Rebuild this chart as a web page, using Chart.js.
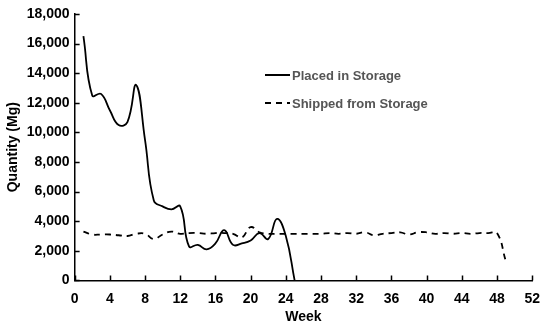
<!DOCTYPE html>
<html>
<head>
<meta charset="utf-8">
<script src="https://cdn.jsdelivr.net/npm/chart.js@4"></script>
<style>
  html, body { margin: 0; padding: 0; background: #fff; }
  #wrap { width: 550px; height: 326px; }
</style>
</head>
<body>
<div id="wrap"><canvas id="lineChart"></canvas></div>
<script>
// weeks and quantities (Mg)
var placedWeeks = [1, 2, 3, 4, 5, 6, 7, 8, 9, 10, 11, 12, 13, 14, 15, 16, 17, 18, 19, 20, 21, 22, 23, 24, 25];
var placedValues = [16500, 12500, 12600, 11500, 10500, 10700, 13200, 9500, 5400, 5000, 4800, 5000, 2300, 2400, 2100, 2500, 3400, 2400, 2500, 2700, 3200, 2800, 4150, 3000, 0];

var shippedWeeks = [1, 2, 3, 4, 5, 6, 7, 8, 9, 10, 11, 12, 13, 14, 15, 16, 17, 18, 19, 20, 21, 22, 23, 24, 25, 26, 27, 28, 29, 30, 31, 32, 33, 34, 35, 36, 37, 38, 39, 40, 41, 42, 43, 44, 45, 46, 47, 48, 49];
var shippedValues = [3300, 3100, 3100, 3100, 3050, 3000, 3150, 3150, 2800, 3100, 3300, 3150, 3200, 3200, 3150, 3200, 3200, 3150, 2900, 3600, 3250, 3150, 3150, 3150, 3150, 3150, 3150, 3150, 3200, 3150, 3200, 3150, 3250, 3050, 3150, 3200, 3250, 3100, 3250, 3250, 3150, 3200, 3150, 3200, 3150, 3200, 3200, 3200, 1300];

var seriesNames = ["Placed in Storage", "Shipped from Storage"];

function toPoints(xs, ys) {
  return xs.map(function (x, i) { return { x: x, y: ys[i] }; });
}

// tick marks point into the plot, so draw them by hand
var innerTicks = {
  id: "innerTicks",
  afterDraw: function (chart) {
    var c = chart.ctx, xs = chart.scales.x, ys = chart.scales.y;
    c.save();
    c.strokeStyle = "#000";
    c.lineWidth = 1.5;
    c.beginPath();
    xs.ticks.forEach(function (t) {
      var px = Math.round(xs.getPixelForValue(t.value)) + 0.5;
      c.moveTo(px, ys.bottom);
      c.lineTo(px, ys.bottom - 5);
    });
    ys.ticks.forEach(function (t) {
      var py = Math.round(ys.getPixelForValue(t.value)) + 0.5;
      c.moveTo(xs.left, py);
      c.lineTo(xs.left + 5, py);
    });
    c.stroke();
    c.restore();
  }
};

// legend drawn in the middle of the plot like the original
var legendPlugin = {
  id: "insideLegend",
  afterDraw: function (chart) {
    var c = chart.ctx;
    var items = [
      { label: seriesNames[0], dash: [], y: 75 },
      { label: seriesNames[1], dash: [6, 5], y: 103 }
    ];
    c.save();
    items.forEach(function (it) {
      c.beginPath();
      c.setLineDash(it.dash);
      c.lineWidth = 2;
      c.strokeStyle = "#000";
      c.moveTo(265, it.y);
      c.lineTo(290, it.y);
      c.stroke();
      c.setLineDash([]);
      c.fillStyle = "#555";
      c.font = "bold 13px 'Liberation Sans', Arial, sans-serif";
      c.textBaseline = "middle";
      c.fillText(it.label, 292, it.y + 1);
    });
    c.restore();
  }
};

var tickFont = { family: "'Liberation Sans', Arial, sans-serif", size: 14, weight: "bold" };

var ctx = document.getElementById("lineChart").getContext("2d");
var lineChart = new Chart(ctx, {
  type: "line",
  data: {
    datasets: [
      {
        label: seriesNames[0],
        data: toPoints(placedWeeks, placedValues),
        borderColor: "#000",
        borderWidth: 1.8,
        pointRadius: 0,
        tension: 0.45,
        fill: false
      },
      {
        label: seriesNames[1],
        data: toPoints(shippedWeeks, shippedValues),
        borderColor: "#000",
        borderWidth: 1.8,
        borderDash: [6, 5],
        pointRadius: 0,
        tension: 0.45,
        fill: false
      }
    ]
  },
  options: {
    responsive: true,
    maintainAspectRatio: false,
    animation: false,
    layout: { padding: { top: 14, right: 11, left: 1, bottom: 0 } },
    plugins: { legend: { display: false }, tooltip: { enabled: false } },
    scales: {
      x: {
        type: "linear",
        min: 0,
        max: 52,
        ticks: { stepSize: 4, color: "#000", font: tickFont, maxRotation: 0, padding: 10 },
        grid: { drawOnChartArea: false, drawTicks: false },
        border: { display: true, color: "#000", width: 1.5 },
        title: { display: true, text: "Week", color: "#000", font: { family: tickFont.family, size: 14, weight: "bold" }, padding: { top: -8, bottom: 0 } }
      },
      y: {
        min: 0,
        max: 18000,
        ticks: {
          stepSize: 2000,
          color: "#000",
          font: tickFont,
          padding: 5,
          callback: function (v) { return v.toLocaleString("en-US"); }
        },
        grid: { drawOnChartArea: false, drawTicks: false },
        border: { display: true, color: "#000", width: 1.5 },
        title: { display: true, text: "Quantity (Mg)", color: "#000", font: { family: tickFont.family, size: 14, weight: "bold" }, padding: { bottom: 0 } }
      }
    }
  },
  plugins: [innerTicks, legendPlugin]
});
</script>
</body>
</html>
